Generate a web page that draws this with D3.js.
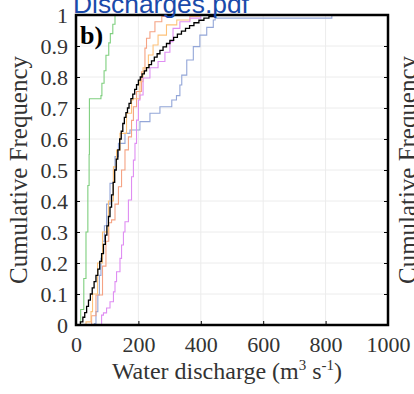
<!DOCTYPE html>
<html><head><meta charset="utf-8">
<script src="https://cdn.jsdelivr.net/npm/d3@7"></script>
<style>body{margin:0;background:#fff;overflow:hidden}svg{display:block}</style>
</head><body>
<script>
// ---- data ----
const xTicks = [0, 200, 400, 600, 800, 1000];
const yTicks = [0, 0.1, 0.2, 0.3, 0.4, 0.5, 0.6, 0.7, 0.8, 0.9, 1];
const yTickLabels = ["0","0.1","0.2","0.3","0.4","0.5","0.6","0.7","0.8","0.9","1"];

const greenQ = [5, 15, 25, 32, 38, 42, 43, 80, 83, 90, 96, 105, 110, 118, 125, 1000];
const greenF = [0, 0.05, 0.15, 0.3, 0.45, 0.55, 0.73, 0.74, 0.78, 0.82, 0.87, 0.91, 0.94, 0.97, 1, 1];

const blueQ = [56, 59, 64, 70, 75, 80, 85, 91, 98, 109, 120, 125, 136, 157, 173, 205, 237, 269, 307, 322, 333, 339, 355, 376, 397, 419, 440, 446, 820, 1000];
const blueF = [0, 0.005, 0.043, 0.097, 0.16, 0.215, 0.27, 0.32, 0.39, 0.457, 0.5, 0.543, 0.586, 0.618, 0.629, 0.656, 0.683, 0.704, 0.726, 0.74, 0.774, 0.806, 0.855, 0.898, 0.935, 0.96, 0.984, 0.99, 1, 1];

const orangeQ = [25, 32, 48, 53, 69, 85, 104, 120, 130, 141, 162, 178, 183, 205, 215, 232, 247, 263, 290, 323, 365, 397, 1000];
const orangeF = [0, 0.01, 0.043, 0.1, 0.2, 0.3, 0.4, 0.51, 0.564, 0.618, 0.683, 0.726, 0.73, 0.785, 0.83, 0.871, 0.903, 0.935, 0.968, 0.984, 0.995, 1, 1];

const salmonQ = [35, 50, 64, 85, 96, 105, 114, 125, 136, 146, 157, 168, 178, 184, 194, 210, 221, 226, 237, 253, 275, 311, 1000];
const salmonF = [0, 0.03, 0.097, 0.19, 0.27, 0.33, 0.339, 0.39, 0.446, 0.5, 0.565, 0.607, 0.66, 0.704, 0.753, 0.817, 0.893, 0.925, 0.946, 0.978, 0.995, 1, 1];

const violetQ = [59, 82, 88, 98, 109, 120, 125, 130, 141, 146, 152, 157, 168, 178, 184, 189, 194, 200, 205, 215, 237, 263, 285, 301, 311, 333, 365, 400, 1000];
const violetF = [0, 0.032, 0.039, 0.055, 0.075, 0.107, 0.14, 0.172, 0.215, 0.258, 0.3, 0.333, 0.403, 0.478, 0.532, 0.586, 0.661, 0.726, 0.742, 0.797, 0.83, 0.85, 0.88, 0.914, 0.957, 0.978, 0.99, 1, 1];

const blackQ = [5, 14, 22, 28, 34, 40, 46, 52, 58, 64, 70, 76, 82, 88, 94, 99, 104, 109, 114, 119, 124, 129, 134, 140, 145, 150, 155, 160, 165, 170, 176, 182, 188, 194, 200, 206, 212, 219, 226, 234, 242, 251, 260, 269, 279, 290, 301, 313, 325, 338, 351, 364, 378, 394, 410, 426, 445, 1000];
const blackF = [0, 0.01, 0.025, 0.04, 0.06, 0.08, 0.1, 0.12, 0.14, 0.16, 0.18, 0.205, 0.23, 0.26, 0.29, 0.32, 0.35, 0.38, 0.42, 0.46, 0.5, 0.535, 0.565, 0.6, 0.625, 0.65, 0.67, 0.685, 0.7, 0.715, 0.73, 0.745, 0.76, 0.775, 0.79, 0.8, 0.81, 0.82, 0.83, 0.84, 0.852, 0.864, 0.875, 0.886, 0.897, 0.908, 0.918, 0.928, 0.938, 0.948, 0.957, 0.966, 0.975, 0.983, 0.99, 0.995, 1, 1];

const seriesList = [
  {q: greenQ, f: greenF, color: "#7fcf7f", w: 1.1},
  {q: blueQ, f: blueF, color: "#93a6d8", w: 1.1},
  {q: salmonQ, f: salmonF, color: "#f5a384", w: 1.1},
  {q: orangeQ, f: orangeF, color: "#fdc27a", w: 1.1},
  {q: violetQ, f: violetF, color: "#df8ef2", w: 1.1},
  {q: blackQ, f: blackF, color: "#000000", w: 1.3}
];

// ---- drawing ----
const W = 414, H = 394;
const L = 76, R = 388, T = 15, B = 325;
const serif = "'Liberation Serif', 'Times New Roman', serif";
const svg = d3.select("body").append("svg").attr("width", W).attr("height", H);

const x = d3.scaleLinear().domain([0, 1000]).range([L, R]);
const y = d3.scaleLinear().domain([0, 1]).range([B, T]);

function fitWidth(sel, target) {
  const fs = +sel.attr("font-size");
  const w = sel.node().getComputedTextLength();
  if (w > 0) sel.attr("font-size", fs * target / w);
}

// grid
svg.append("g").selectAll("line").data(xTicks.slice(1, -1)).join("line")
  .attr("x1", d => x(d)).attr("x2", d => x(d)).attr("y1", T).attr("y2", B)
  .attr("stroke", "#ececec").attr("stroke-width", 1);
svg.append("g").selectAll("line").data(yTicks.slice(1, -1)).join("line")
  .attr("x1", L).attr("x2", R).attr("y1", d => y(d)).attr("y2", d => y(d))
  .attr("stroke", "#ececec").attr("stroke-width", 1);

// curves
const line = d3.line().x(d => x(d[0])).y(d => y(d[1])).curve(d3.curveStepAfter);
svg.append("clipPath").attr("id", "c").append("rect")
  .attr("x", L).attr("y", T - 2).attr("width", R - L).attr("height", B - T + 2);
const gc = svg.append("g").attr("clip-path", "url(#c)");
seriesList.forEach(s => {
  gc.append("path").datum(s.q.map((v, i) => [v, s.f[i]]))
    .attr("d", line).attr("fill", "none").attr("stroke", s.color)
    .attr("stroke-width", s.w);
});

// axes with inward ticks
const axL = d3.axisLeft(y).tickValues(yTicks).tickFormat((d, i) => yTickLabels[i]).tickSizeInner(-4).tickSizeOuter(0).tickPadding(8);
const axR = d3.axisRight(y).tickValues(yTicks).tickFormat("").tickSizeInner(-4).tickSizeOuter(0);
const axB = d3.axisBottom(x).tickValues(xTicks).tickFormat(d3.format("d")).tickSizeInner(-4).tickSizeOuter(0).tickPadding(11);

const gL = svg.append("g").attr("transform", `translate(${L},0)`).call(axL);
const gR = svg.append("g").attr("transform", `translate(${R},0)`).call(axR);
const gB = svg.append("g").attr("transform", `translate(0,${B})`).call(axB);
[gL, gR, gB].forEach(g => {
  g.select(".domain").remove();
  g.selectAll(".tick line").attr("stroke", "#000").attr("stroke-width", 1);
  g.selectAll("text").attr("font-family", serif).attr("font-size", 22).attr("fill", "#333");
});
gB.selectAll("text").attr("dy", "0.71em");

// frame
svg.append("rect").attr("x", L).attr("y", T).attr("width", R - L).attr("height", B - T)
  .attr("fill", "none").attr("stroke", "#000").attr("stroke-width", 2.5);

// labels
svg.append("text").attr("x", 80).attr("y", 44)
  .attr("font-family", serif).attr("font-weight", "bold")
  .attr("font-size", 26).attr("fill", "#000").text("b)");

const yl = svg.append("text").attr("transform", "translate(27,170) rotate(-90)")
  .attr("text-anchor", "middle")
  .attr("font-family", serif).attr("font-size", 24).attr("fill", "#333")
  .text("Cumulative Frequency");
fitWidth(yl, 228);

const yr = svg.append("text").attr("transform", "translate(416,170) rotate(-90)")
  .attr("text-anchor", "middle")
  .attr("font-family", serif).attr("font-size", 24).attr("fill", "#333")
  .text("Cumulative Frequency");
fitWidth(yr, 228);

const xt = svg.append("text").attr("x", 227).attr("y", 379).attr("text-anchor", "middle")
  .attr("font-family", serif).attr("font-size", 24).attr("fill", "#333");
xt.append("tspan").text("Water discharge (m");
xt.append("tspan").attr("dy", -9).attr("font-size", 15).text("3");
xt.append("tspan").attr("dy", 9).text(" s");
xt.append("tspan").attr("dy", -9).attr("font-size", 15).text("-1");
xt.append("tspan").attr("dy", 9).text(")");

const dp = svg.append("text").attr("x", 73).attr("y", 13)
  .attr("font-family", "'Liberation Sans', Arial, sans-serif").attr("font-size", 26)
  .attr("fill", "#1a4aaa").text("Discharges.pdf");
fitWidth(dp, 176);
</script>
</body></html>
